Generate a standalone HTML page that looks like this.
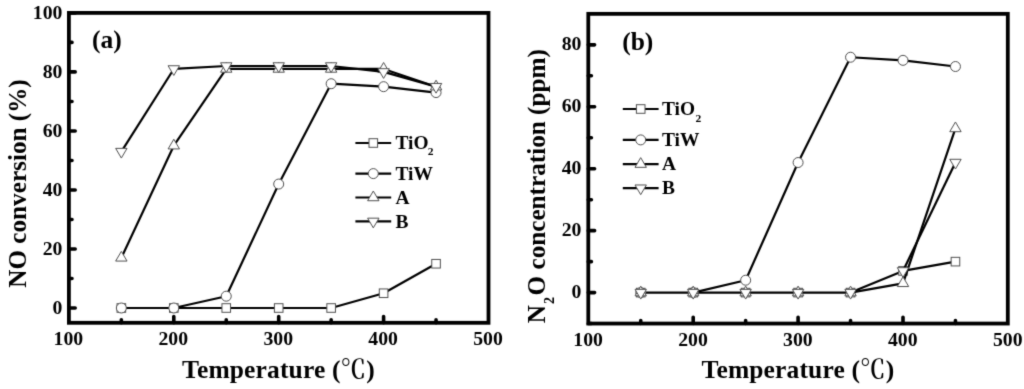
<!DOCTYPE html>
<html lang="en">
<head>
<meta charset="utf-8">
<title>NO conversion and N2O concentration vs temperature</title>
<style>
html,body{margin:0;padding:0;background:#fff;}
body{width:1024px;height:389px;overflow:hidden;}
svg{display:block;}
text{font-family:"Liberation Serif", "Noto Serif CJK SC", serif;font-weight:bold;fill:#000;}
.tl{font-size:18.3px;}
.ax{font-size:25.5px;letter-spacing:0.15px;}
.ay{font-size:25.2px;}
.pl{font-size:25.5px;}
.lg{font-size:18.5px;}
.sub{font-size:11px;}
.sub2{font-size:14px;}
.cj{font-family:"Noto Serif CJK SC","Noto Sans CJK SC",serif;font-weight:600;}
.fr{fill:none;stroke:#000;stroke-width:3.8;}
.tk{fill:none;stroke:#000;stroke-width:3.6;stroke-linecap:round;}
.ln{fill:none;stroke:#000;stroke-width:2.2;stroke-linejoin:round;}
.mk{fill:#fff;stroke:#505050;stroke-width:1.0;}
</style>
</head>
<body>
<svg width="1024" height="389" viewBox="0 0 1024 389">
<defs>
<filter id="soft" x="0" y="0" width="100%" height="100%" filterUnits="objectBoundingBox" color-interpolation-filters="sRGB">
<feConvolveMatrix order="3" kernelMatrix="0.0169 0.0962 0.0169 0.0962 0.5476 0.0962 0.0169 0.0962 0.0169" edgeMode="duplicate" preserveAlpha="true"/>
</filter>
</defs>
<g filter="url(#soft)">
<rect width="1024" height="389" fill="#fff"/>
<rect class="fr" x="68.9" y="12.9" width="419.6" height="309.9"/>
<path class="tk" d="M173.8 322.8v-6.3M278.7 322.8v-6.3M383.6 322.8v-6.3M121.35 322.8v-3.1M226.25 322.8v-3.1M331.15 322.8v-3.1M436.05 322.8v-3.1M68.9 308h6.3M68.9 248.98h6.3M68.9 189.96h6.3M68.9 130.94h6.3M68.9 71.92h6.3M68.9 12.9h6.3M68.9 278.49h3.1M68.9 219.47h3.1M68.9 160.45h3.1M68.9 101.43h3.1M68.9 42.41h3.1"/>
<text class="tl" text-anchor="middle" transform="translate(68.4 344.5) scale(1.08 1)">100</text>
<text class="tl" text-anchor="middle" transform="translate(173.3 344.5) scale(1.08 1)">200</text>
<text class="tl" text-anchor="middle" transform="translate(278.2 344.5) scale(1.08 1)">300</text>
<text class="tl" text-anchor="middle" transform="translate(383.1 344.5) scale(1.08 1)">400</text>
<text class="tl" text-anchor="middle" transform="translate(488 344.5) scale(1.08 1)">500</text>
<text class="tl" text-anchor="end" transform="translate(62.4 313.8) scale(1.08 1)">0</text>
<text class="tl" text-anchor="end" transform="translate(62.4 254.78) scale(1.08 1)">20</text>
<text class="tl" text-anchor="end" transform="translate(62.4 195.76) scale(1.08 1)">40</text>
<text class="tl" text-anchor="end" transform="translate(62.4 136.74) scale(1.08 1)">60</text>
<text class="tl" text-anchor="end" transform="translate(62.4 77.72) scale(1.08 1)">80</text>
<text class="tl" text-anchor="end" transform="translate(62.4 18.7) scale(1.08 1)">100</text>
<polyline class="ln" points="121.35,308 173.8,308 226.25,308 278.7,308 331.15,308 383.6,293.25 436.05,263.74"/>
<g class="mk"><rect x="117.05" y="303.7" width="8.6" height="8.6"/><rect x="169.5" y="303.7" width="8.6" height="8.6"/><rect x="221.95" y="303.7" width="8.6" height="8.6"/><rect x="274.4" y="303.7" width="8.6" height="8.6"/><rect x="326.85" y="303.7" width="8.6" height="8.6"/><rect x="379.3" y="288.94" width="8.6" height="8.6"/><rect x="431.75" y="259.44" width="8.6" height="8.6"/></g>
<polyline class="ln" points="173.8,308 226.25,296.2 278.7,184.06 331.15,83.72 383.6,86.67 436.05,92.58"/>
<g class="mk"><circle cx="121.35" cy="308" r="5.0"/><circle cx="173.8" cy="308" r="5.0"/><circle cx="226.25" cy="296.2" r="5.0"/><circle cx="278.7" cy="184.06" r="5.0"/><circle cx="331.15" cy="83.72" r="5.0"/><circle cx="383.6" cy="86.67" r="5.0"/><circle cx="436.05" cy="92.58" r="5.0"/></g>
<polyline class="ln" points="121.35,257.83 173.8,145.69 226.25,68.97 278.7,68.97 331.15,68.97 383.6,68.97 436.05,86.67"/>
<g class="mk"><polygon points="115.65,261.07 127.05,261.07 121.35,251.37"/><polygon points="168.1,148.93 179.5,148.93 173.8,139.23"/><polygon points="220.55,72.2 231.95,72.2 226.25,62.5"/><polygon points="273,72.2 284.4,72.2 278.7,62.5"/><polygon points="325.45,72.2 336.85,72.2 331.15,62.5"/><polygon points="377.9,72.2 389.3,72.2 383.6,62.5"/><polygon points="430.35,89.91 441.75,89.91 436.05,80.21"/></g>
<polyline class="ln" points="121.35,151.6 173.8,68.97 226.25,66.02 278.7,66.02 331.15,66.02 383.6,71.92 436.05,86.67"/>
<g class="mk"><polygon points="115.65,148.36 127.05,148.36 121.35,158.06"/><polygon points="168.1,65.74 179.5,65.74 173.8,75.44"/><polygon points="220.55,62.78 231.95,62.78 226.25,72.48"/><polygon points="273,62.78 284.4,62.78 278.7,72.48"/><polygon points="325.45,62.78 336.85,62.78 331.15,72.48"/><polygon points="377.9,68.69 389.3,68.69 383.6,78.39"/><polygon points="430.35,83.44 441.75,83.44 436.05,93.14"/></g>
<path class="ln" d="M355.4 143h35.8"/>
<g class="mk"><rect x="369" y="138.7" width="8.6" height="8.6"/></g>
<text class="lg" transform="translate(395.4 149.2) scale(1.05 1)">TiO<tspan class="sub" dx="-0.7" dy="6.1">2</tspan></text>
<path class="ln" d="M355.4 173.6h35.8"/>
<g class="mk"><circle cx="373.3" cy="173.6" r="5.0"/></g>
<text class="lg" transform="translate(395.4 179.8) scale(1.05 1)">TiW</text>
<path class="ln" d="M355.4 197.5h35.8"/>
<g class="mk"><polygon points="367.6,200.73 379,200.73 373.3,191.03"/></g>
<text class="lg" transform="translate(395.4 203.7) scale(1.05 1)">A</text>
<path class="ln" d="M355.4 221.4h35.8"/>
<g class="mk"><polygon points="367.6,218.17 379,218.17 373.3,227.87"/></g>
<text class="lg" transform="translate(395.4 227.6) scale(1.05 1)">B</text>
<text class="pl" x="92" y="47.6">(a)</text>
<text class="ax" text-anchor="middle" x="278.5" y="378.2">Temperature (<tspan class="cj">℃</tspan>)</text>
<text class="ay" text-anchor="middle" transform="translate(25.5 183.5) rotate(-90)">NO conversion (%)</text>
<rect class="fr" x="588.3" y="13.85" width="419.5" height="309.7"/>
<path class="tk" d="M693.2 323.55v-6.3M798.1 323.55v-6.3M903 323.55v-6.3M640.75 323.55v-3.1M745.65 323.55v-3.1M850.55 323.55v-3.1M955.45 323.55v-3.1M588.3 292.6h6.3M588.3 230.66h6.3M588.3 168.72h6.3M588.3 106.78h6.3M588.3 44.84h6.3M588.3 323.57h3.1M588.3 261.63h3.1M588.3 199.69h3.1M588.3 137.75h3.1M588.3 75.81h3.1"/>
<text class="tl" text-anchor="middle" transform="translate(588.1 345.7) scale(1.08 1)">100</text>
<text class="tl" text-anchor="middle" transform="translate(693 345.7) scale(1.08 1)">200</text>
<text class="tl" text-anchor="middle" transform="translate(797.9 345.7) scale(1.08 1)">300</text>
<text class="tl" text-anchor="middle" transform="translate(902.8 345.7) scale(1.08 1)">400</text>
<text class="tl" text-anchor="middle" transform="translate(1007.7 345.7) scale(1.08 1)">500</text>
<text class="tl" text-anchor="end" transform="translate(581.4 298) scale(1.08 1)">0</text>
<text class="tl" text-anchor="end" transform="translate(581.4 236.06) scale(1.08 1)">20</text>
<text class="tl" text-anchor="end" transform="translate(581.4 174.12) scale(1.08 1)">40</text>
<text class="tl" text-anchor="end" transform="translate(581.4 112.18) scale(1.08 1)">60</text>
<text class="tl" text-anchor="end" transform="translate(581.4 50.24) scale(1.08 1)">80</text>
<polyline class="ln" points="640.75,292.6 693.2,292.6 745.65,292.6 798.1,292.6 850.55,292.6 903,270.92 955.45,261.63"/>
<g class="mk"><rect x="636.45" y="288.3" width="8.6" height="8.6"/><rect x="688.9" y="288.3" width="8.6" height="8.6"/><rect x="741.35" y="288.3" width="8.6" height="8.6"/><rect x="793.8" y="288.3" width="8.6" height="8.6"/><rect x="846.25" y="288.3" width="8.6" height="8.6"/><rect x="898.7" y="266.62" width="8.6" height="8.6"/><rect x="951.15" y="257.33" width="8.6" height="8.6"/></g>
<polyline class="ln" points="693.2,292.6 745.65,280.21 798.1,162.53 850.55,57.23 903,60.33 955.45,66.52"/>
<g class="mk"><circle cx="640.75" cy="292.6" r="5.0"/><circle cx="693.2" cy="292.6" r="5.0"/><circle cx="745.65" cy="280.21" r="5.0"/><circle cx="798.1" cy="162.53" r="5.0"/><circle cx="850.55" cy="57.23" r="5.0"/><circle cx="903" cy="60.33" r="5.0"/><circle cx="955.45" cy="66.52" r="5.0"/></g>
<polyline class="ln" points="850.55,292.6 903,283.31 955.45,128.46"/>
<g class="mk"><polygon points="635.05,295.83 646.45,295.83 640.75,286.13"/><polygon points="687.5,295.83 698.9,295.83 693.2,286.13"/><polygon points="739.95,295.83 751.35,295.83 745.65,286.13"/><polygon points="792.4,295.83 803.8,295.83 798.1,286.13"/><polygon points="844.85,295.83 856.25,295.83 850.55,286.13"/><polygon points="897.3,286.54 908.7,286.54 903,276.84"/><polygon points="949.75,131.69 961.15,131.69 955.45,121.99"/></g>
<polyline class="ln" points="903,270.92 955.45,162.53"/>
<g class="mk"><polygon points="635.05,289.37 646.45,289.37 640.75,299.07"/><polygon points="687.5,289.37 698.9,289.37 693.2,299.07"/><polygon points="739.95,289.37 751.35,289.37 745.65,299.07"/><polygon points="792.4,289.37 803.8,289.37 798.1,299.07"/><polygon points="844.85,289.37 856.25,289.37 850.55,299.07"/><polygon points="897.3,267.69 908.7,267.69 903,277.39"/><polygon points="949.75,159.29 961.15,159.29 955.45,168.99"/></g>
<path class="ln" d="M622.8 109h35.8"/>
<g class="mk"><rect x="636.4" y="104.7" width="8.6" height="8.6"/></g>
<text class="lg" transform="translate(662 115.2) scale(1.05 1)">TiO<tspan class="sub" dx="0.4" dy="7.2">2</tspan></text>
<path class="ln" d="M622.8 139.9h35.8"/>
<g class="mk"><circle cx="640.7" cy="139.9" r="5.0"/></g>
<text class="lg" transform="translate(662 146.1) scale(1.05 1)">TiW</text>
<path class="ln" d="M622.8 164.1h35.8"/>
<g class="mk"><polygon points="635,167.33 646.4,167.33 640.7,157.63"/></g>
<text class="lg" transform="translate(662 170.3) scale(1.05 1)">A</text>
<path class="ln" d="M622.8 188.2h35.8"/>
<g class="mk"><polygon points="635,184.97 646.4,184.97 640.7,194.67"/></g>
<text class="lg" transform="translate(662 194.4) scale(1.05 1)">B</text>
<text class="pl" x="622.2" y="50.2">(b)</text>
<text class="ax" text-anchor="middle" x="798" y="378.2">Temperature (<tspan class="cj">℃</tspan>)</text>
<text class="ay" text-anchor="middle" transform="translate(544.6 186.2) rotate(-90)">N<tspan class="sub2" dx="1" dy="9">2</tspan><tspan dx="1.6" dy="-9">O concentration (ppm)</tspan></text>
</g>
</svg>
</body>
</html>
